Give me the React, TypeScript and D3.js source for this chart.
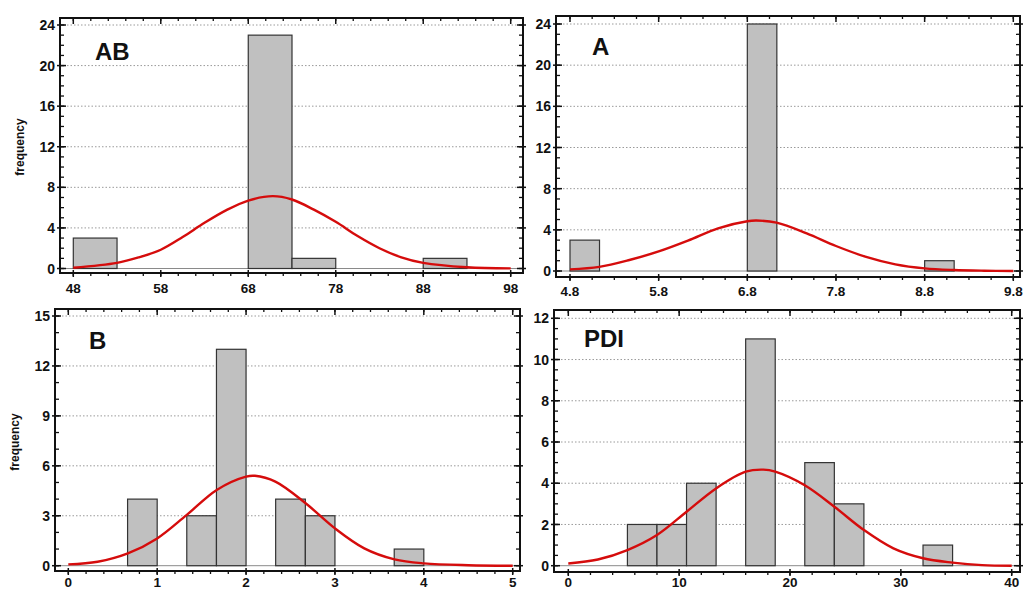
import React from "react";
import * as d3 from "d3";

// histogram bins (lower edge, upper edge, count) and fitted curve points
const AB_BIN_LO = [48, 68, 73, 88];
const AB_BIN_HI = [53, 73, 78, 93];
const AB_COUNTS = [3, 23, 1, 1];
const AB_CURVE_X = [48, 53, 55.5, 58, 60.5, 63, 65.5, 68, 70.8, 73, 75.5, 78, 80.5, 83, 85.5, 88, 93, 98];
const AB_CURVE_Y = [0.07, 0.55, 1.1, 1.85, 3.1, 4.5, 5.75, 6.7, 7.13, 6.8, 5.8, 4.6, 3.2, 2.0, 1.1, 0.55, 0.12, 0.01];
const AB_X_TICKS = [48, 58, 68, 78, 88, 98];
const AB_Y_TICKS = [0, 4, 8, 12, 16, 20, 24];

const A_BIN_LO = [4.8, 6.8, 8.8];
const A_BIN_HI = [5.133, 7.133, 9.133];
const A_COUNTS = [3, 24, 1];
const A_CURVE_X = [4.8, 5.13, 5.47, 5.8, 6.13, 6.47, 6.8, 6.9, 7.13, 7.47, 7.8, 8.13, 8.47, 8.8, 9.13, 9.47, 9.8];
const A_CURVE_Y = [0.16, 0.4, 1.07, 1.9, 2.95, 4.15, 4.83, 4.9, 4.7, 3.66, 2.43, 1.4, 0.65, 0.26, 0.1, 0.03, 0];
const A_X_TICKS = [4.8, 5.8, 6.8, 7.8, 8.8, 9.8];
const A_Y_TICKS = [0, 4, 8, 12, 16, 20, 24];

const B_BIN_LO = [0.667, 1.333, 1.667, 2.333, 2.667, 3.667];
const B_BIN_HI = [1, 1.667, 2, 2.667, 3, 4];
const B_COUNTS = [4, 3, 13, 4, 3, 1];
const B_CURVE_X = [0, 0.33, 0.67, 1.0, 1.33, 1.67, 2.0, 2.1, 2.33, 2.67, 3.0, 3.33, 3.67, 4.0, 4.5, 5];
const B_CURVE_Y = [0.08, 0.24, 0.74, 1.64, 3.04, 4.55, 5.35, 5.4, 5.05, 3.75, 2.24, 1.04, 0.38, 0.14, 0.03, 0];
const B_X_TICKS = [0, 1, 2, 3, 4, 5];
const B_Y_TICKS = [0, 3, 6, 9, 12, 15];

const PDI_BIN_LO = [5.333, 8, 10.667, 16, 21.333, 24, 32];
const PDI_BIN_HI = [8, 10.667, 13.333, 18.667, 24, 26.667, 34.667];
const PDI_COUNTS = [2, 2, 4, 11, 5, 3, 1];
const PDI_CURVE_X = [0, 2.67, 5.33, 8, 10.67, 13.33, 16, 17.6, 18.67, 21.33, 24, 26.67, 29.33, 32, 34.67, 37.33, 40];
const PDI_CURVE_Y = [0.11, 0.3, 0.76, 1.49, 2.62, 3.75, 4.56, 4.66, 4.56, 3.9, 2.86, 1.73, 0.84, 0.36, 0.15, 0.03, 0];
const PDI_X_TICKS = [0, 10, 20, 30, 40];
const PDI_Y_TICKS = [0, 2, 4, 6, 8, 10, 12];

const FONT = "Arial, 'Liberation Sans', sans-serif";

interface PanelProps {
  title: string;
  binLo: number[];
  binHi: number[];
  counts: number[];
  curveX: number[];
  curveY: number[];
  xTicks: number[];
  yTicks: number[];
  xMinor: number;
  yMinor: number;
  fmt: (v: number) => string;
  // layout: frame box and pixel positions of first/last ticks
  frame: { l: number; r: number; t: number; b: number };
  xPx: [number, number];
  yPx: [number, number];
  titlePos: [number, number];
  ylabel?: [number, number];
  xLabelY: number;
}

const Panel: React.FC<PanelProps> = (p) => {
  const x = d3
    .scaleLinear()
    .domain([p.xTicks[0], p.xTicks[p.xTicks.length - 1]])
    .range(p.xPx);
  const y = d3
    .scaleLinear()
    .domain([p.yTicks[0], p.yTicks[p.yTicks.length - 1]])
    .range(p.yPx);
  const { l, r, t, b } = p.frame;

  const xMinorTicks = d3
    .range(p.xTicks[0], p.xTicks[p.xTicks.length - 1] + 1e-9, p.xMinor)
    .filter((v) => x(v) > l + 1 && x(v) < r - 1);
  const yMinorTicks = d3
    .range(p.yTicks[0], y.invert(t) + 1e-9, p.yMinor)
    .filter((v) => y(v) > t + 1 && y(v) < b - 1);

  const line = d3
    .line<number>()
    .x((_, i) => x(p.curveX[i]))
    .y((d) => y(d))
    .curve(d3.curveCatmullRom.alpha(0.5));

  return (
    <g>
      {/* gridlines */}
      {p.yTicks.map((v) =>
        v === 0 ? (
          <line key={v} x1={l} x2={r} y1={y(v)} y2={y(v)} stroke="#8a8a8a" strokeWidth={1} />
        ) : (
          <line
            key={v}
            x1={l}
            x2={r}
            y1={y(v)}
            y2={y(v)}
            stroke="#9a9a9a"
            strokeWidth={1}
            strokeDasharray="1.5,2"
          />
        )
      )}
      {/* bars */}
      {p.counts.map((c, i) => (
        <rect
          key={i}
          x={x(p.binLo[i])}
          y={y(c)}
          width={x(p.binHi[i]) - x(p.binLo[i])}
          height={y(0) - y(c)}
          fill="#c0c0c0"
          stroke="#333"
          strokeWidth={1.2}
        />
      ))}
      {/* fitted curve */}
      <path d={line(p.curveY) ?? ""} fill="none" stroke="#d50c0c" strokeWidth={2.4} />
      {/* frame */}
      <rect x={l} y={t} width={r - l} height={b - t} fill="none" stroke="#111" strokeWidth={2} />
      {/* minor ticks */}
      {xMinorTicks.map((v, i) => (
        <g key={"xm" + i} stroke="#111" strokeWidth={1.3}>
          <line x1={x(v)} x2={x(v)} y1={b} y2={b + 3} />
          <line x1={x(v)} x2={x(v)} y1={t} y2={t + 3} />
        </g>
      ))}
      {yMinorTicks.map((v, i) => (
        <g key={"ym" + i} stroke="#111" strokeWidth={1.3}>
          <line x1={l} x2={l + 4} y1={y(v)} y2={y(v)} />
          <line x1={r} x2={r - 4} y1={y(v)} y2={y(v)} />
        </g>
      ))}
      {/* major ticks + labels */}
      {p.xTicks.map((v) => (
        <g key={"x" + v}>
          <line x1={x(v)} x2={x(v)} y1={b - 3} y2={b + 4} stroke="#111" strokeWidth={1.5} />
          <line x1={x(v)} x2={x(v)} y1={t} y2={t + 6} stroke="#111" strokeWidth={1.5} />
          <text
            x={x(v)}
            y={p.xLabelY}
            textAnchor="middle"
            fontFamily={FONT}
            fontWeight="bold"
            fontSize={13.5}
            fill="#111"
          >
            {p.fmt(v)}
          </text>
        </g>
      ))}
      {p.yTicks.map((v) => (
        <g key={"y" + v}>
          <line x1={l - 3} x2={l + 6} y1={y(v)} y2={y(v)} stroke="#111" strokeWidth={1.5} />
          <line x1={r - 6} x2={r + 3} y1={y(v)} y2={y(v)} stroke="#111" strokeWidth={1.5} />
          <text
            x={l - 5}
            y={y(v)}
            dy="0.36em"
            textAnchor="end"
            fontFamily={FONT}
            fontWeight="bold"
            fontSize={14}
            fill="#111"
          >
            {v}
          </text>
        </g>
      ))}
      <text
        x={p.titlePos[0]}
        y={p.titlePos[1]}
        fontFamily={FONT}
        fontWeight="bold"
        fontSize={24}
        fill="#111"
      >
        {p.title}
      </text>
      {p.ylabel && (
        <text
          transform={`translate(${p.ylabel[0]},${p.ylabel[1]}) rotate(-90)`}
          textAnchor="middle"
          fontFamily={FONT}
          fontWeight="bold"
          fontSize={12}
          fill="#111"
        >
          frequency
        </text>
      )}
    </g>
  );
};

const App: React.FC = () => {
  const int = (v: number) => String(v);
  const one = (v: number) => v.toFixed(1);
  return (
    <svg
      width={1024}
      height={591}
      style={{ position: "absolute", left: 0, top: 0, background: "#fff" }}
    >
      <rect width={1024} height={591} fill="#fff" />
      <Panel
        title="AB"
        binLo={AB_BIN_LO}
        binHi={AB_BIN_HI}
        counts={AB_COUNTS}
        curveX={AB_CURVE_X}
        curveY={AB_CURVE_Y}
        xTicks={AB_X_TICKS}
        yTicks={AB_Y_TICKS}
        xMinor={2}
        yMinor={1}
        fmt={int}
        frame={{ l: 60, r: 523, t: 18, b: 273 }}
        xPx={[73.3, 510.7]}
        yPx={[268.5, 25]}
        titlePos={[95, 60]}
        ylabel={[24, 147]}
        xLabelY={293}
      />
      <Panel
        title="A"
        binLo={A_BIN_LO}
        binHi={A_BIN_HI}
        counts={A_COUNTS}
        curveX={A_CURVE_X}
        curveY={A_CURVE_Y}
        xTicks={A_X_TICKS}
        yTicks={A_Y_TICKS}
        xMinor={0.25}
        yMinor={1}
        fmt={one}
        frame={{ l: 556, r: 1020, t: 16, b: 277 }}
        xPx={[570, 1013.3]}
        yPx={[271, 24]}
        titlePos={[592, 55]}
        xLabelY={296}
      />
      <Panel
        title="B"
        binLo={B_BIN_LO}
        binHi={B_BIN_HI}
        counts={B_COUNTS}
        curveX={B_CURVE_X}
        curveY={B_CURVE_Y}
        xTicks={B_X_TICKS}
        yTicks={B_Y_TICKS}
        xMinor={0.2}
        yMinor={1}
        fmt={int}
        frame={{ l: 55, r: 520, t: 309, b: 571 }}
        xPx={[68.3, 512.7]}
        yPx={[565.7, 316]}
        titlePos={[89, 349]}
        ylabel={[19, 442]}
        xLabelY={587}
      />
      <Panel
        title="PDI"
        binLo={PDI_BIN_LO}
        binHi={PDI_BIN_HI}
        counts={PDI_COUNTS}
        curveX={PDI_CURVE_X}
        curveY={PDI_CURVE_Y}
        xTicks={PDI_X_TICKS}
        yTicks={PDI_Y_TICKS}
        xMinor={2}
        yMinor={0.5}
        fmt={int}
        frame={{ l: 554, r: 1020, t: 310, b: 572 }}
        xPx={[568.3, 1011.7]}
        yPx={[565.7, 318.3]}
        titlePos={[584, 347]}
        xLabelY={587}
      />
    </svg>
  );
};

export default App;
